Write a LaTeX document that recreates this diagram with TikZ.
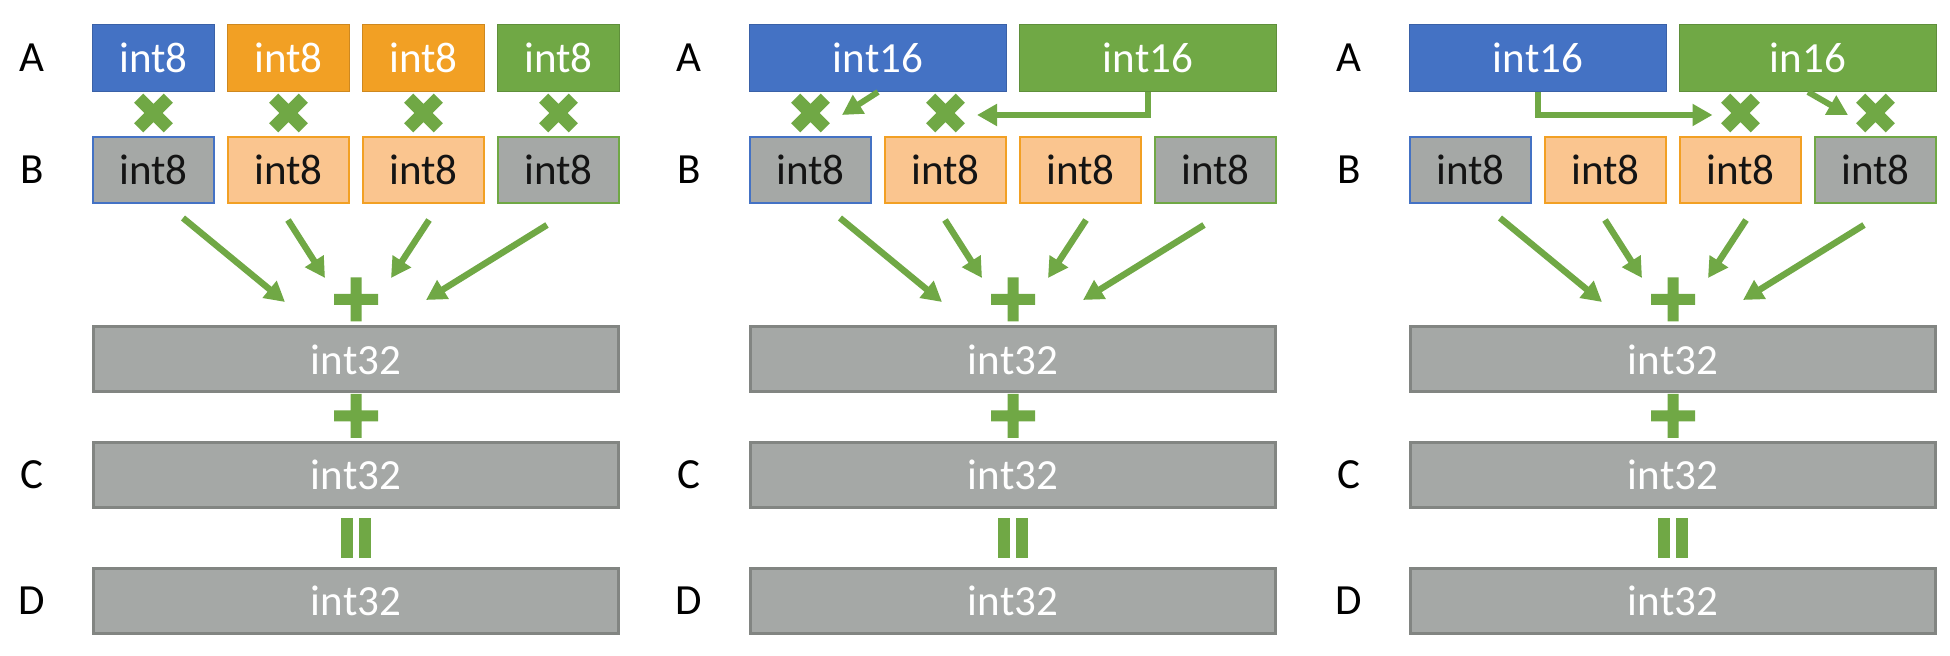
\documentclass[tikz,border=0pt]{standalone}
\usepackage{fontspec}
\setmainfont{Carlito}
\usetikzlibrary{arrows.meta,calc}
\definecolor{cblue}{HTML}{4472C4}
\definecolor{corange}{HTML}{F2A024}
\definecolor{cgreen}{HTML}{70A845}
\definecolor{clorange}{HTML}{FAC58F}
\definecolor{cgray}{HTML}{A5A8A6}
\definecolor{cgrayb}{HTML}{828582}
\definecolor{ctext}{HTML}{141414}
\tikzset{
  txt/.style={font=\fontsize{21.5}{25}\selectfont},
  lab/.style={txt, text=black, inner sep=0pt},
  abox/.style={txt, text=white, inner sep=0pt, minimum width=61pt, minimum height=33.6pt, fill=#1, draw=#1!85!black, line width=0.4pt},
  wbox/.style={txt, text=white, inner sep=0pt, minimum width=128.6pt, minimum height=33.6pt, fill=#1, draw=#1!85!black, line width=0.4pt},
  bbox/.style={txt, text=ctext, inner sep=0pt, minimum width=60.3pt, minimum height=32.8pt, line width=1.2pt},
  sumbox/.style={txt, text=white, inner sep=0pt, minimum width=262.5pt, minimum height=32.5pt, fill=cgray, draw=cgrayb, line width=1.5pt},
  arr/.style={draw=cgreen, line width=3.2pt, -{Triangle[length=10pt,width=10.5pt]}},
  elb/.style={draw=cgreen, line width=3pt, -{Triangle[length=10pt,width=10.5pt]}},
  plusmark/.pic={\fill[cgreen] (-22,-5.5) -- (-5.5,-5.5) -- (-5.5,-22) -- (5.5,-22) -- (5.5,-5.5) -- (22,-5.5) -- (22,5.5) -- (5.5,5.5) -- (5.5,22) -- (-5.5,22) -- (-5.5,5.5) -- (-22,5.5) -- cycle;},
  crossmark/.pic={\fill[cgreen,rotate=45] (-21,-6.5) -- (-6.5,-6.5) -- (-6.5,-21) -- (6.5,-21) -- (6.5,-6.5) -- (21,-6.5) -- (21,6.5) -- (6.5,6.5) -- (6.5,21) -- (-6.5,21) -- (-6.5,6.5) -- (-21,6.5) -- cycle;},
  eqmark/.pic={\fill[cgreen] (-15,-20) rectangle (-3,20); \fill[cgreen] (3,-20) rectangle (15,20);}
}
\newcommand{\panelbase}[1]{%
  \node[lab] (#1LA) at (-60,58) {A};
  \node[lab] (#1LB) at (-60,170) {B};
  \node[lab] (#1LC) at (-60,475) {C};
  \node[lab] (#1LD) at (-60,601) {D};
  \node[bbox, fill=cgray, draw=cblue] (#1b1) at (61.5,170) {int8};
  \node[bbox, fill=clorange, draw=corange] (#1b2) at (196.5,170) {int8};
  \node[bbox, fill=clorange, draw=corange] (#1b3) at (331.5,170) {int8};
  \node[bbox, fill=cgray, draw=cgreen] (#1b4) at (466.5,170) {int8};
  \coordinate (#1s1) at (91,218);  \coordinate (#1t1) at (193,302);
  \coordinate (#1s2) at (196,220); \coordinate (#1t2) at (233,278);
  \coordinate (#1s3) at (337,220); \coordinate (#1t3) at (299,278);
  \coordinate (#1s4) at (455,225); \coordinate (#1t4) at (334,300);
  \draw[arr] (#1s1) -- (#1t1);
  \draw[arr] (#1s2) -- (#1t2);
  \draw[arr] (#1s3) -- (#1t3);
  \draw[arr] (#1s4) -- (#1t4);
  \pic at (264,299.5) {plusmark};
  \node[sumbox] (#1r) at (264,359.5) {int32};
  \pic at (264,416) {plusmark};
  \node[sumbox] (#1c) at (264,475) {int32};
  \pic at (264,538) {eqmark};
  \node[sumbox] (#1d) at (264,601) {int32};
}
\begin{document}
\begin{tikzpicture}[x=0.5pt,y=-0.5pt]
\path[use as bounding box, fill=white] (0,0) rectangle (1950,656);
% Panel 1
\begin{scope}[shift={(92,0)}]
  \panelbase{p1}
  \node[abox=cblue] (p1a1) at (61.5,58) {int8};
  \node[abox=corange] (p1a2) at (196.5,58) {int8};
  \node[abox=corange] (p1a3) at (331.5,58) {int8};
  \node[abox=cgreen] (p1a4) at (466.5,58) {int8};
  \pic at (61.5,113) {crossmark};
  \pic at (196.5,113) {crossmark};
  \pic at (331.5,113) {crossmark};
  \pic at (466.5,113) {crossmark};
\end{scope}
% Panel 2
\begin{scope}[shift={(749,0)}]
  \panelbase{p2}
  \node[wbox=cblue] (p2a1) at (129,58) {int16};
  \node[wbox=cgreen] (p2a2) at (399,58) {int16};
  \pic at (61.5,113) {crossmark};
  \pic at (196.5,113) {crossmark};
  \coordinate (p2k1) at (93,115);
  \coordinate (p2k2) at (228,115);
  \draw[elb] (p2a1.south) -- (p2k1);
  \draw[elb] (p2a2.south) |- (p2k2);
\end{scope}
% Panel 3
\begin{scope}[shift={(1409,0)}]
  \panelbase{p3}
  \node[wbox=cblue] (p3a1) at (129,58) {int16};
  \node[wbox=cgreen] (p3a2) at (399,58) {in16};
  \pic at (331.5,113) {crossmark};
  \pic at (466.5,113) {crossmark};
  \coordinate (p3k1) at (303.5,115);
  \coordinate (p3k2) at (439,115);
  \draw[elb] (p3a1.south) |- (p3k1);
  \draw[elb] (p3a2.south) -- (p3k2);
\end{scope}
\end{tikzpicture}
\end{document}
